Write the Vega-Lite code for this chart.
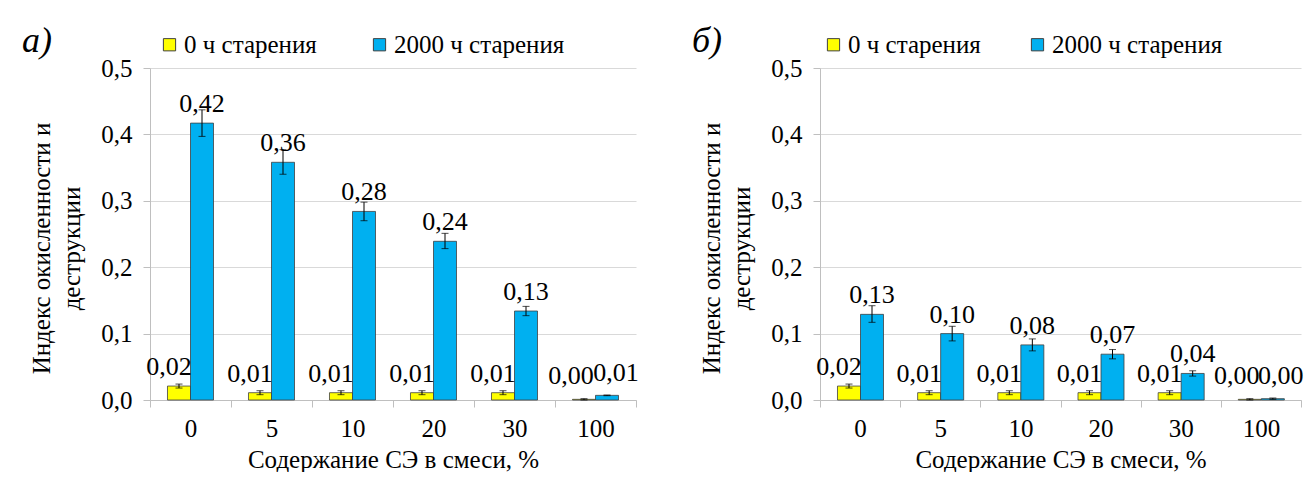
{
  "$schema": "https://vega.github.io/schema/vega-lite/v6.json",
  "background": "white",
  "padding": {"left": 22, "top": 23, "right": 0, "bottom": 0},
  "spacing": 53,
  "config": {
    "locale": {"number": {"decimal": ",", "thousands": " ", "grouping": [3], "currency": ["", ""]}},
    "font": "Liberation Serif",
    "view": {"stroke": null},
    "axis": {
      "labelFont": "Liberation Serif", "labelFontSize": 25, "labelColor": "black",
      "titleFont": "Liberation Serif", "titleFontSize": 25, "titleFontWeight": "normal", "titleColor": "black",
      "domainColor": "#bfbfbf", "tickColor": "#bfbfbf", "gridColor": "#d9d9d9", "tickSize": 7
    },
    "legend": {
      "labelFont": "Liberation Serif", "labelFontSize": 25, "labelColor": "black", "labelLimit": 400,
      "symbolType": "square", "symbolSize": 150, "symbolStrokeColor": "#404040", "symbolStrokeWidth": 1,
      "labelOffset": 2, "columnPadding": 50
    },
    "text": {"font": "Liberation Serif", "fontSize": 26, "color": "black"},
    "title": {"font": "Liberation Serif", "fontSize": 36, "fontStyle": "italic", "fontWeight": "normal", "color": "black", "anchor": "start", "frame": "group"}
  },
  "datasets": {
    "rows": [
      {"panel": "а", "content": "0", "series": "0 ч старения", "value": 0.021, "lo": 0.018, "hi": 0.024},
      {"panel": "а", "content": "0", "series": "2000 ч старения", "value": 0.417, "lo": 0.397, "hi": 0.437},
      {"panel": "а", "content": "5", "series": "0 ч старения", "value": 0.011, "lo": 0.008, "hi": 0.014},
      {"panel": "а", "content": "5", "series": "2000 ч старения", "value": 0.358, "lo": 0.340, "hi": 0.377},
      {"panel": "а", "content": "10", "series": "0 ч старения", "value": 0.011, "lo": 0.008, "hi": 0.014},
      {"panel": "а", "content": "10", "series": "2000 ч старения", "value": 0.284, "lo": 0.270, "hi": 0.298},
      {"panel": "а", "content": "20", "series": "0 ч старения", "value": 0.011, "lo": 0.008, "hi": 0.014},
      {"panel": "а", "content": "20", "series": "2000 ч старения", "value": 0.239, "lo": 0.228, "hi": 0.251},
      {"panel": "а", "content": "30", "series": "0 ч старения", "value": 0.011, "lo": 0.008, "hi": 0.014},
      {"panel": "а", "content": "30", "series": "2000 ч старения", "value": 0.134, "lo": 0.127, "hi": 0.141},
      {"panel": "а", "content": "100", "series": "0 ч старения", "value": 0.001, "lo": 0.0, "hi": 0.002},
      {"panel": "а", "content": "100", "series": "2000 ч старения", "value": 0.007, "lo": 0.0065, "hi": 0.0075},
      {"panel": "б", "content": "0", "series": "0 ч старения", "value": 0.021, "lo": 0.018, "hi": 0.024},
      {"panel": "б", "content": "0", "series": "2000 ч старения", "value": 0.129, "lo": 0.117, "hi": 0.142},
      {"panel": "б", "content": "5", "series": "0 ч старения", "value": 0.011, "lo": 0.008, "hi": 0.014},
      {"panel": "б", "content": "5", "series": "2000 ч старения", "value": 0.1, "lo": 0.089, "hi": 0.111},
      {"panel": "б", "content": "10", "series": "0 ч старения", "value": 0.011, "lo": 0.008, "hi": 0.014},
      {"panel": "б", "content": "10", "series": "2000 ч старения", "value": 0.083, "lo": 0.074, "hi": 0.092},
      {"panel": "б", "content": "20", "series": "0 ч старения", "value": 0.011, "lo": 0.008, "hi": 0.014},
      {"panel": "б", "content": "20", "series": "2000 ч старения", "value": 0.069, "lo": 0.062, "hi": 0.076},
      {"panel": "б", "content": "30", "series": "0 ч старения", "value": 0.011, "lo": 0.008, "hi": 0.014},
      {"panel": "б", "content": "30", "series": "2000 ч старения", "value": 0.04, "lo": 0.036, "hi": 0.044},
      {"panel": "б", "content": "100", "series": "0 ч старения", "value": 0.001, "lo": 0.0, "hi": 0.002},
      {"panel": "б", "content": "100", "series": "2000 ч старения", "value": 0.002, "lo": 0.001, "hi": 0.003}
    ]
  },
  "resolve": {"scale": {"color": "independent", "x": "independent", "y": "independent"}, "legend": {"color": "independent"}},
  "hconcat": [
    {
      "width": 486,
      "height": 332,
      "title": {"text": "а)", "dx": -128, "dy": 32},
      "data": {"name": "rows"},
      "transform": [{"filter": "datum.panel == 'а'"}],
      "encoding": {
        "x": {"field": "content", "type": "ordinal", "sort": ["0", "5", "10", "20", "30", "100"],
              "scale": {"paddingInner": 0, "paddingOuter": 0},
              "axis": {"title": "Содержание СЭ в смеси, %", "labelAngle": 0, "tickBand": "extent", "labelPadding": 9, "titlePadding": 6}},
        "xOffset": {"field": "series", "type": "nominal", "sort": ["0 ч старения", "2000 ч старения"],
                    "scale": {"paddingInner": 0, "paddingOuter": 0.76}}
      },
      "layer": [
        {
          "mark": {"type": "bar", "stroke": "#404040", "strokeWidth": 0.8},
          "encoding": {
            "y": {"field": "value", "type": "quantitative", "scale": {"domain": [0, 0.5]},
                  "axis": {"title": ["Индекс окисленности и", "деструкции"], "titleLineHeight": 30, "titleY": 180, "tickCount": 5, "format": ".1f", "labelPadding": 11, "titlePadding": 16}},
            "color": {"field": "series", "type": "nominal", "sort": ["0 ч старения", "2000 ч старения"],
                      "scale": {"range": ["#ffff00", "#00b0f0"]},
                      "legend": {"title": null, "orient": "none", "direction": "horizontal", "legendX": 7, "legendY": -36}}
          }
        },
        {"mark": {"type": "rule", "color": "black", "strokeWidth": 1},
         "encoding": {"y": {"field": "lo", "type": "quantitative"}, "y2": {"field": "hi"}}},
        {"mark": {"type": "tick", "color": "black", "thickness": 1, "size": 7, "orient": "horizontal"},
         "encoding": {"y": {"field": "lo", "type": "quantitative"}}},
        {"mark": {"type": "tick", "color": "black", "thickness": 1, "size": 7, "orient": "horizontal"},
         "encoding": {"y": {"field": "hi", "type": "quantitative"}}},
        {"transform": [{"filter": "datum.series == '0 ч старения' && datum.content != '100'"}],
         "mark": {"type": "text", "baseline": "alphabetic", "dy": -11, "dx": -10},
         "encoding": {"y": {"field": "value", "type": "quantitative"}, "text": {"field": "value", "type": "quantitative", "format": ".2f"}}},
        {"transform": [{"filter": "datum.series == '2000 ч старения' && datum.content != '100'"}],
         "mark": {"type": "text", "baseline": "alphabetic", "dy": -11},
         "encoding": {"y": {"field": "value", "type": "quantitative"}, "text": {"field": "value", "type": "quantitative", "format": ".2f"}}},
        {"transform": [{"filter": "datum.series == '0 ч старения' && datum.content == '100'"}],
         "mark": {"type": "text", "baseline": "alphabetic", "dy": -15, "dx": -13},
         "encoding": {"y": {"field": "value", "type": "quantitative"}, "text": {"field": "value", "type": "quantitative", "format": ".2f"}}},
        {"transform": [{"filter": "datum.series == '2000 ч старения' && datum.content == '100'"}],
         "mark": {"type": "text", "baseline": "alphabetic", "dy": -14, "dx": 9},
         "encoding": {"y": {"field": "value", "type": "quantitative"}, "text": {"field": "value", "type": "quantitative", "format": ".2f"}}}
      ]
    },
    {
      "width": 481,
      "height": 332,
      "title": {"text": "б)", "dx": -128, "dy": 32},
      "data": {"name": "rows"},
      "transform": [{"filter": "datum.panel == 'б'"}],
      "encoding": {
        "x": {"field": "content", "type": "ordinal", "sort": ["0", "5", "10", "20", "30", "100"],
              "scale": {"paddingInner": 0, "paddingOuter": 0},
              "axis": {"title": "Содержание СЭ в смеси, %", "labelAngle": 0, "tickBand": "extent", "labelPadding": 9, "titlePadding": 6}},
        "xOffset": {"field": "series", "type": "nominal", "sort": ["0 ч старения", "2000 ч старения"],
                    "scale": {"paddingInner": 0, "paddingOuter": 0.76}}
      },
      "layer": [
        {
          "mark": {"type": "bar", "stroke": "#404040", "strokeWidth": 0.8},
          "encoding": {
            "y": {"field": "value", "type": "quantitative", "scale": {"domain": [0, 0.5]},
                  "axis": {"title": ["Индекс окисленности и", "деструкции"], "titleLineHeight": 30, "titleY": 180, "tickCount": 5, "format": ".1f", "labelPadding": 11, "titlePadding": 16}},
            "color": {"field": "series", "type": "nominal", "sort": ["0 ч старения", "2000 ч старения"],
                      "scale": {"range": ["#ffff00", "#00b0f0"]},
                      "legend": {"title": null, "orient": "none", "direction": "horizontal", "legendX": 1, "legendY": -36, "columnPadding": 44}}
          }
        },
        {"mark": {"type": "rule", "color": "black", "strokeWidth": 1},
         "encoding": {"y": {"field": "lo", "type": "quantitative"}, "y2": {"field": "hi"}}},
        {"mark": {"type": "tick", "color": "black", "thickness": 1, "size": 7, "orient": "horizontal"},
         "encoding": {"y": {"field": "lo", "type": "quantitative"}}},
        {"mark": {"type": "tick", "color": "black", "thickness": 1, "size": 7, "orient": "horizontal"},
         "encoding": {"y": {"field": "hi", "type": "quantitative"}}},
        {"transform": [{"filter": "datum.series == '0 ч старения' && datum.content != '100'"}],
         "mark": {"type": "text", "baseline": "alphabetic", "dy": -11, "dx": -10},
         "encoding": {"y": {"field": "value", "type": "quantitative"}, "text": {"field": "value", "type": "quantitative", "format": ".2f"}}},
        {"transform": [{"filter": "datum.series == '2000 ч старения' && datum.content != '100'"}],
         "mark": {"type": "text", "baseline": "alphabetic", "dy": -11},
         "encoding": {"y": {"field": "value", "type": "quantitative"}, "text": {"field": "value", "type": "quantitative", "format": ".2f"}}},
        {"transform": [{"filter": "datum.series == '0 ч старения' && datum.content == '100'"}],
         "mark": {"type": "text", "baseline": "alphabetic", "dy": -15, "dx": -13},
         "encoding": {"y": {"field": "value", "type": "quantitative"}, "text": {"field": "value", "type": "quantitative", "format": ".2f"}}},
        {"transform": [{"filter": "datum.series == '2000 ч старения' && datum.content == '100'"}],
         "mark": {"type": "text", "baseline": "alphabetic", "dy": -15, "dx": 8},
         "encoding": {"y": {"field": "value", "type": "quantitative"}, "text": {"field": "value", "type": "quantitative", "format": ".2f"}}}
      ]
    }
  ]
}
